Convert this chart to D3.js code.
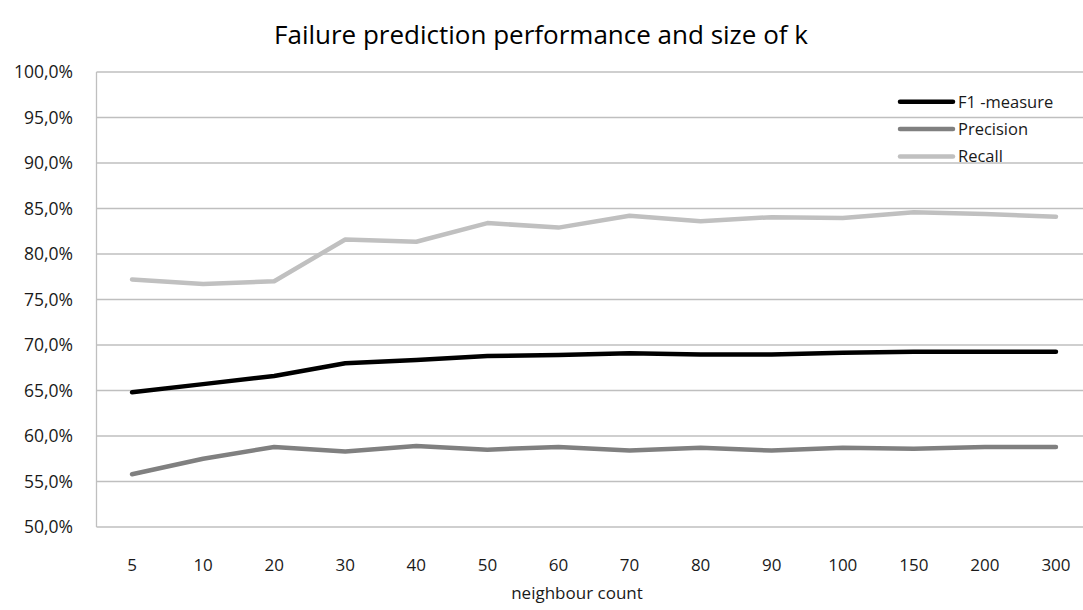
<!DOCTYPE html>
<html><head><meta charset="utf-8">
<script src="https://cdn.jsdelivr.net/npm/d3@7"></script>
<style>body{margin:0;background:#fff;} svg{display:block;}</style>
</head><body>
<svg id="c" width="1083" height="610"></svg>
<script>
const categories = ["5","10","20","30","40","50","60","70","80","90","100","150","200","300"];
const f1 = [64.8,65.7,66.6,68.0,68.35,68.8,68.9,69.1,68.95,68.95,69.15,69.25,69.25,69.25];
const precision = [55.8,57.5,58.8,58.3,58.9,58.5,58.8,58.4,58.7,58.4,58.7,58.6,58.8,58.8];
const recall = [77.2,76.7,77.0,81.6,81.35,83.4,82.9,84.2,83.6,84.05,83.95,84.6,84.4,84.1];
const yTicks = [50,55,60,65,70,75,80,85,90,95,100];
const seriesNames = ["F1 -measure","Precision","Recall"];
const seriesColors = ["#000000","#808080","#c0c0c0"];
const seriesData = [f1, precision, recall];

(function(){
const svg = d3.select("#c");
const font = "'Open Sans', sans-serif";
const pL = 96.5, pR = 1091.5, pT = 72, pB = 527;
const x = d3.scaleBand().domain(categories).range([pL, pR]);
const y = d3.scaleLinear().domain([50,100]).range([pB, pT]);

svg.append("g").selectAll("line").data(yTicks).join("line")
  .attr("x1", pL).attr("x2", pR)
  .attr("y1", d => y(d)).attr("y2", d => y(d))
  .attr("stroke", "#bfbfbf").attr("stroke-width", 1.3);
svg.append("line").attr("x1", pL).attr("x2", pL).attr("y1", pT).attr("y2", pB)
  .attr("stroke", "#bfbfbf").attr("stroke-width", 1.3);

const fmt = d => d.toFixed(1).replace(".", ",") + "%";
svg.append("g").selectAll("text").data(yTicks).join("text")
  .attr("x", 73).attr("y", d => y(d)).attr("dy", "0.36em")
  .attr("text-anchor", "end").attr("font-family", font).attr("font-size", 17.5)
  .attr("fill", "#1a1a1a").text(fmt);

svg.append("g").selectAll("text").data(categories).join("text")
  .attr("x", d => x(d) + x.bandwidth()/2).attr("y", 565).attr("dy", "0.36em")
  .attr("text-anchor", "middle").attr("font-family", font).attr("font-size", 17)
  .attr("fill", "#1a1a1a").text(d => d);

svg.append("text").attr("x", 577).attr("y", 593).attr("dy", "0.36em")
  .attr("text-anchor", "middle").attr("font-family", font).attr("font-size", 17)
  .attr("fill", "#1a1a1a").text("neighbour count");

svg.append("text").attr("x", 541).attr("y", 35).attr("dy", "0.36em")
  .attr("text-anchor", "middle").attr("font-family", font).attr("font-size", 26)
  .attr("fill", "#000").text("Failure prediction performance and size of k");

const line = d3.line().x((d,i) => x(categories[i]) + x.bandwidth()/2).y(d => y(d));
[2,1,0].forEach(k => {
  svg.append("path").datum(seriesData[k]).attr("d", line)
    .attr("fill", "none").attr("stroke", seriesColors[k]).attr("stroke-width", 4.5)
    .attr("stroke-linejoin", "round").attr("stroke-linecap", "round");
});

const legY = [101.7, 129, 156.5];
seriesNames.forEach((n, k) => {
  svg.append("line").attr("x1", 900).attr("x2", 953).attr("y1", legY[k]).attr("y2", legY[k])
    .attr("stroke", seriesColors[k]).attr("stroke-width", 4.5).attr("stroke-linecap", "round");
  svg.append("text").attr("x", 958).attr("y", legY[k]).attr("dy", "0.36em")
    .attr("font-family", font).attr("font-size", 16.5).attr("fill", "#1a1a1a").text(n);
});
})();
</script>
</body></html>
